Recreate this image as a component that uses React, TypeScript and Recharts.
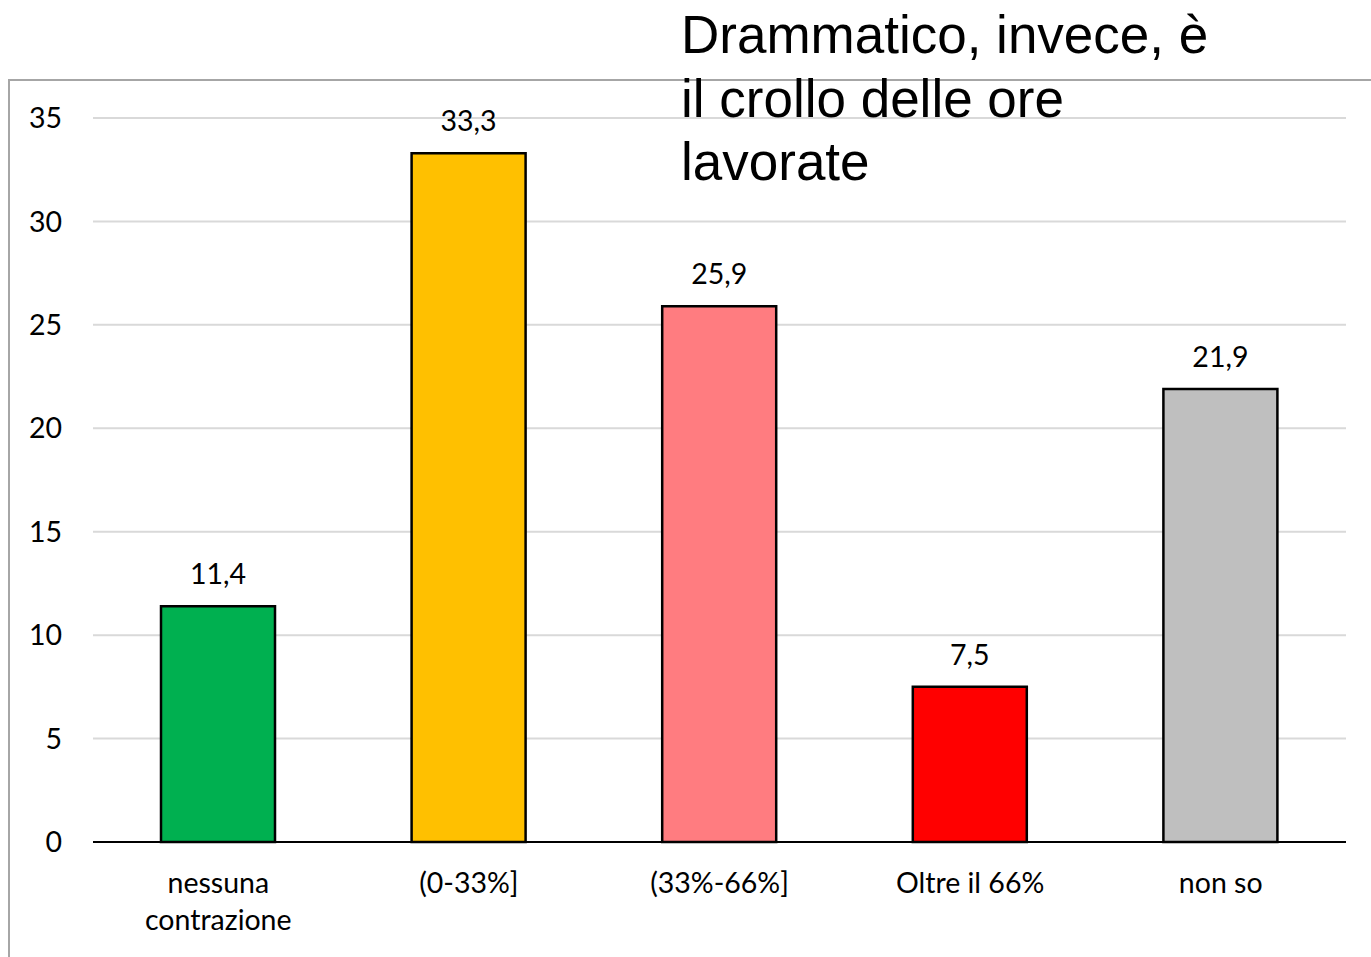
import { BarChart, Bar, XAxis, YAxis, CartesianGrid, Cell, LabelList } from 'recharts';

// categories (line breaks as in the original axis labels)
const categories = ['nessuna\ncontrazione', '(0-33%]', '(33%-66%]', 'Oltre il 66%', 'non so'];
const shares = [11.4, 33.3, 25.9, 7.5, 21.9];
const barColors = ['#00b050', '#ffc000', '#ff7c80', '#ff0000', '#bfbfbf'];
const yTicks = [0, 5, 10, 15, 20, 25, 30, 35];
const titleLines = ['Drammatico, invece, è', 'il crollo delle ore', 'lavorate'];

const chartData = categories.map((name, i) => ({ name, value: shares[i] }));

const FONT = 'Lato, "Open Sans", sans-serif';
const FS = 28.5;

function CategoryTick({ x, y, payload }: any) {
  const lines = String(payload.value).split('\n');
  return (
    <text x={x} y={y} textAnchor="middle" fill="#000" fontSize={FS} fontFamily={FONT}>
      {lines.map((line, i) => (
        <tspan key={i} x={x} dy={i === 0 ? 51 : 37}>
          {line}
        </tspan>
      ))}
    </text>
  );
}

export default function App() {
  return (
    <div style={{ position: 'absolute', left: 0, top: 0, width: 1371, height: 957, overflow: 'hidden', background: '#fff' }}>
      <div
        style={{
          position: 'absolute',
          left: 8,
          top: 79,
          width: 1500,
          height: 1000,
          borderLeft: '2px solid #a6a6a6',
          borderTop: '2px solid #a6a6a6',
        }}
      />
      <div style={{ position: 'absolute', left: 0, top: 0 }}>
        <BarChart width={1371} height={957} data={chartData} margin={{ top: 118, right: 25, bottom: 15, left: 0 }}>
          <CartesianGrid vertical={false} stroke="#d9d9d9" strokeWidth={2} />
          <XAxis
            dataKey="name"
            height={100}
            interval={0}
            tickLine={false}
            tickSize={0}
            tickMargin={0}
            axisLine={{ stroke: '#000', strokeWidth: 2 }}
            tick={<CategoryTick />}
          />
          <YAxis
            width={93}
            domain={[0, 35]}
            ticks={yTicks}
            axisLine={false}
            tickLine={false}
            tickSize={0}
            tickMargin={31}
            tick={{ fill: '#000', fontSize: FS, fontFamily: FONT }}
          />
          <Bar dataKey="value" barSize={114} stroke="#000" strokeWidth={2.5} isAnimationActive={false}>
            {chartData.map((d, i) => (
              <Cell key={d.name} fill={barColors[i]} />
            ))}
            <LabelList
              dataKey="value"
              position="top"
              offset={22}
              fill="#000"
              stroke="none"
              fontSize={FS}
              fontFamily={FONT}
              formatter={(v: any) => String(v).replace('.', ',')}
            />
          </Bar>
        </BarChart>
      </div>
      <div
        style={{
          position: 'absolute',
          left: 681,
          top: 3,
          fontFamily: '"Liberation Sans", Arial, sans-serif',
          fontSize: 53,
          lineHeight: '63.5px',
          color: '#000',
          whiteSpace: 'nowrap',
        }}
      >
        {titleLines.map((line) => (
          <div key={line}>{line}</div>
        ))}
      </div>
    </div>
  );
}
